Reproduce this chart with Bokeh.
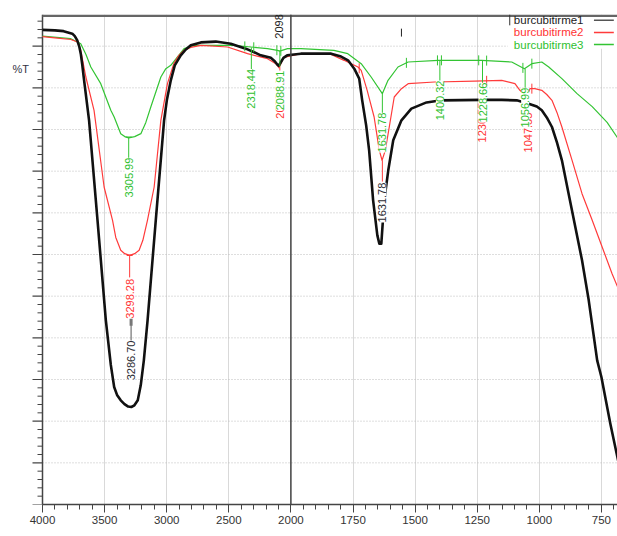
import numpy as np
from bokeh.plotting import figure
from bokeh.models import Range1d, FixedTicker, Label, Span, CustomJSTickFormatter
from bokeh.embed import file_html
from bokeh.resources import INLINE

# ---------------- data ----------------
tick_labels = [4000, 3500, 3000, 2500, 2000, 1750, 1500, 1250, 1000, 750]
series_names = ["burcubitirme1", "burcubitirme2", "burcubitirme3"]
y_major = list(range(0, 120, 10))
y_minor = [v for v in range(2, 118, 2) if v % 10]

wn1 = [4000, 3900, 3830, 3760, 3740, 3720, 3704, 3692, 3680, 3668, 3625, 3557, 3490, 3450,
       3423, 3400, 3370, 3340, 3310, 3285, 3260, 3233, 3209, 3184, 3154, 3088, 3021, 2999,
       2967, 2935, 2887, 2846, 2806, 2725, 2605, 2484, 2363, 2300, 2243, 2162, 2130, 2110,
       2098, 2080, 2060, 2030, 1960, 1838, 1798, 1770, 1745, 1725, 1713, 1697, 1685, 1669,
       1652, 1644, 1636, 1624, 1608, 1588, 1555, 1515, 1454, 1394, 1232, 1151, 1091, 1043,
       1010, 990, 970, 949, 929, 909, 882, 855, 828, 801, 767, 750, 714, 680]
t1 = [113.9, 113.8, 113.6, 113.0, 112.4, 111.4, 109.9, 108.2, 105.6, 102.5, 92.2, 68.2, 44.2, 33.5,
      28.2, 26.3, 25.0, 24.1, 23.5, 23.4, 23.8, 25.0, 28.6, 34.6, 44.2, 68.2, 92.2, 97.0,
      101.8, 105.4, 107.8, 109.2, 110.2, 110.9, 111.1, 110.6, 109.4, 108.6, 107.8, 107.2, 106.4, 105.6,
      105.3, 106.2, 107.2, 107.8, 108.2, 108.2, 107.5, 106.6, 104.6, 102.2, 97.0, 91.0, 85.0, 73.0,
      64.6, 62.6, 62.6, 73.0, 80.2, 87.4, 92.2, 95.0, 96.5, 97.0, 97.1, 97.1, 97.0, 96.2,
      95.5, 94.6, 92.9, 90.6, 86.9, 82.6, 74.6, 66.6, 58.6, 49.0, 34.6, 30.6, 19.4, 9.8]

wn2 = [4000, 3900, 3772, 3718, 3692, 3651, 3585, 3504, 3436, 3410, 3370, 3338, 3298, 3258,
       3222, 3192, 3155, 3101, 3047, 2994, 2943, 2902, 2862, 2806, 2725, 2510, 2349, 2188,
       2121, 2095, 2070, 2057, 1960, 1838, 1786, 1730, 1717, 1693, 1665, 1644, 1633, 1620,
       1604, 1584, 1555, 1528, 1422, 1260, 1151, 1098, 1078, 1050, 1038, 1018, 990, 970,
       949, 929, 909, 868, 828, 787, 747, 707, 679]
t2 = [112.3, 112.0, 111.6, 111.0, 109.0, 102.6, 94.6, 76.2, 68.2, 64.1, 61.0, 60.2, 59.8, 60.2,
      61.0, 63.4, 68.2, 76.2, 92.2, 101.0, 105.8, 107.8, 109.0, 109.7, 110.2, 109.8, 108.2, 107.0,
      105.8, 104.8, 106.5, 107.3, 108.2, 108.0, 106.6, 105.0, 104.2, 99.4, 93.0, 85.0, 82.6, 85.0,
      90.6, 97.8, 99.8, 101.0, 101.4, 101.6, 101.8, 101.0, 99.4, 98.0, 99.8, 99.8, 99.4, 98.4,
      97.0, 94.1, 90.6, 82.6, 74.6, 68.2, 61.8, 55.4, 51.4]

wn3 = [4000, 3772, 3718, 3692, 3650, 3611, 3531, 3450, 3423, 3370, 3338, 3306, 3258, 3208,
       3168, 3128, 3047, 3007, 2967, 2913, 2860, 2779, 2460, 2323, 2188, 2108, 2090, 2027,
       1960, 1827, 1771, 1717, 1677, 1632, 1609, 1569, 1528, 1407, 1232, 1111, 1060, 1030,
       990, 962, 909, 848, 787, 727, 678]
t3 = [112.4, 111.8, 111.0, 110.6, 108.0, 105.0, 101.0, 94.6, 93.0, 89.0, 88.3, 88.0, 88.3, 89.0,
      91.7, 95.4, 102.6, 104.6, 105.4, 107.4, 109.4, 110.2, 110.2, 109.8, 109.4, 109.0, 108.8, 109.4,
      109.4, 109.0, 108.2, 105.8, 102.6, 98.6, 101.8, 105.0, 106.2, 106.6, 106.6, 106.2, 104.6, 105.8,
      106.2, 105.0, 102.2, 98.6, 95.5, 91.7, 87.4]

# peak labels
peak_wn = [3298.28, 2088.91, 1230.55, 1047.35, 3286.70, 1631.78,
           3305.99, 2318.44, 2088.91, 1631.78, 1400.32, 1228.66, 1056.99]
peak_text = ["3298.28", "2088.91", "1230.55", "1047.35", "3286.70", "1631.78",
             "3305.99", "2318.44", "2088.91", "1631.78", "1400.32", "1228.66", "1056.99"]
peak_series = [1, 1, 1, 1, 0, 0, 2, 2, 2, 2, 2, 2, 2]
label_base = [44.6, 92.6, 86.9, 84.5, 29.8, 67.7, 73.7, 95.0, 94.6, 84.5, 92.2, 91.7, 90.5]

# peak marker lines (from, to)
marker_wn = [3298.28, 2088.91, 1631.78, 1228.66, 1047.35, 3286.70,
             3305.99, 2318.44, 2088.91, 1631.78, 1400.32, 1228.66, 1056.99]
marker_series = [1, 1, 1, 1, 1, 0, 2, 2, 2, 2, 2, 2, 2]
marker_from = [59.8, 105.0, 82.6, 101.6, 98.0, 44.9, 88.2, 109.7, 109.0, 98.6, 106.6, 106.6, 104.6]
marker_to = [54.5, 96.0, 77.5, 96.0, 95.0, 39.1, 82.6, 104.2, 105.1, 93.8, 101.3, 101.3, 99.4]

# peak-region boundary ticks
bound_wn_green = [2371, 2299, 2113, 2081, 1535, 1410, 1394, 1244, 1212, 1066, 1030]
bound_wn_red = [1725, 1212, 1030]

cursor_wn = 2098
cursor_text = "2098"

colors = ["#111111", "#ff3b3b", "#33c433"]
text_colors = ["#2b2b33", "#ff3333", "#2fbf2f"]
FONT = "Liberation Sans"
AX = "#444444"

PX = 1 / 0.1242          # x data units per pixel
Y_TOP = 117.6


def u(w):
    w = np.asarray(w, dtype=float)
    return np.where(w >= 2000, 4000 - w, 2000 + 2 * (2000 - w))


p = figure(width=617, height=536, output_backend="svg", toolbar_location=None,
           x_range=Range1d(-42 * PX, 575 * PX), y_range=Range1d(0, Y_TOP),
           y_axis_location=None,
           min_border_left=0, min_border_right=0, min_border_top=14,
           min_border_bottom=32)
p.outline_line_color = None
p.background_fill_color = "white"

# x axis
xa = p.xaxis[0]
xa.bounds = (0, 5000)
xa.ticker = FixedTicker(ticks=[float(v) for v in u(tick_labels)],
                        minor_ticks=list(range(0, 4700, 100)))
xa.formatter = CustomJSTickFormatter(
    code="return String(Math.round(tick <= 2000 ? 4000 - tick : 2000 - (tick - 2000) / 2));")
xa.major_tick_out = 8
xa.major_tick_in = 0
xa.minor_tick_out = 5
xa.minor_tick_in = 0
xa.major_label_standoff = 3
xa.major_label_text_font = FONT
xa.major_label_text_font_size = "11.5px"
xa.major_label_text_color = "#333333"
xa.axis_line_color = AX
xa.axis_line_width = 1.5
xa.major_tick_line_color = AX
xa.minor_tick_line_color = AX

# vertical grid
p.xgrid.ticker = FixedTicker(ticks=[float(v) for v in u(tick_labels[1:])])
p.xgrid.grid_line_color = "#d9d9d9"
p.ygrid.visible = False

# dotted horizontal grid
gx1 = [0.0] * (len(y_major) - 1)
gx2 = [5000.0] * (len(y_major) - 1)
p.segment(gx1, y_major[1:], gx2, y_major[1:], line_color="#bdbdbd", line_dash="1 2",
          line_width=1)

# y axis (no numbers, as in the reference)
p.segment([0], [0], [0], [Y_TOP], line_color=AX, line_width=1.5)
p.segment([-10 * PX] * len(y_major), y_major, [0] * len(y_major), y_major,
          line_color=AX, line_width=1.2)
p.segment([-5 * PX] * len(y_minor), y_minor, [0] * len(y_minor), y_minor,
          line_color=AX, line_width=1)
# top frame line
p.segment([0], [Y_TOP - 0.3], [5000], [Y_TOP - 0.3], line_color="#666666", line_width=2.5)

# legend background
p.quad(left=[3746], right=[5000], bottom=[109.4], top=[Y_TOP - 0.6], fill_color="white",
       line_color=None)

# spectra
wns = [wn1, wn2, wn3]
ts = [t1, t2, t3]
widths = [2.6, 1.2, 1.2]
for i in [2, 1, 0]:
    p.line(u(wns[i]), ts[i], line_color=colors[i], line_width=widths[i], line_join="round")

# boundary ticks
for wl, si in [(bound_wn_green, 2), (bound_wn_red, 1)]:
    tv = np.interp(np.array(wl)[::-1], np.array(wns[si])[::-1], np.array(ts[si])[::-1])[::-1]
    p.segment(u(wl), tv + 1.2, u(wl), tv - 1.2, line_color=colors[si], line_width=1)

# markers
for wv, s, a, b in zip(marker_wn, marker_series, marker_from, marker_to):
    p.segment([float(u(wv))], [a], [float(u(wv))], [b],
              line_color=colors[s] if s else "#555555", line_width=1)
for wv, s, a in [(3305.99, 2, 88.2), (3298.28, 1, 59.8)]:
    p.segment([float(u(wv)) - 24], [a], [float(u(wv)) + 24], [a], line_color=colors[s],
              line_width=1.2)
p.segment([float(u(3286.70))], [44.9], [float(u(3286.70))], [42.9], line_color="#777777",
          line_width=3)

# cursor mark
p.segment([float(u(1555))], [112.3], [float(u(1555))], [114.2], line_color="#222222",
          line_width=1)

# dark line at the scale break
p.add_layout(Span(location=2000, dimension="height", line_color=AX, line_width=1.5))

# peak labels
for wv, txt, s, yb in zip(peak_wn, peak_text, peak_series, label_base):
    p.add_layout(Label(x=float(u(wv)), y=yb, text=txt, angle=np.pi / 2,
                       text_align="left", text_baseline="middle",
                       text_font=FONT, text_font_size="11px",
                       text_color=text_colors[s], background_fill_color="white"))

p.add_layout(Label(x=float(u(cursor_wn)), y=111.8, text=cursor_text, angle=np.pi / 2,
                   text_align="left", text_baseline="middle", text_font=FONT,
                   text_font_size="11px", text_color="#222222"))

# %T
p.add_layout(Label(x=-30 * PX, y=104.6, text="%T", text_align="left", text_baseline="middle",
                   text_font=FONT, text_font_size="11px", text_color="#333344"))

# legend
leg_y = [116.2, 113.3, 110.4]
for i in range(3):
    p.add_layout(Label(x=3795, y=leg_y[i], text=series_names[i], text_align="left",
                       text_baseline="middle", text_font=FONT, text_font_size="11.5px",
                       text_color=text_colors[i] if i else "#222222"))
    p.segment([4440], [leg_y[i]], [4600], [leg_y[i]],
              line_color="#555555" if i == 0 else colors[i], line_width=1.5)
p.segment([3762], [Y_TOP], [3762], [115.0], line_color="#333333", line_width=1)

open("out.html", "w").write(file_html(p, INLINE))
